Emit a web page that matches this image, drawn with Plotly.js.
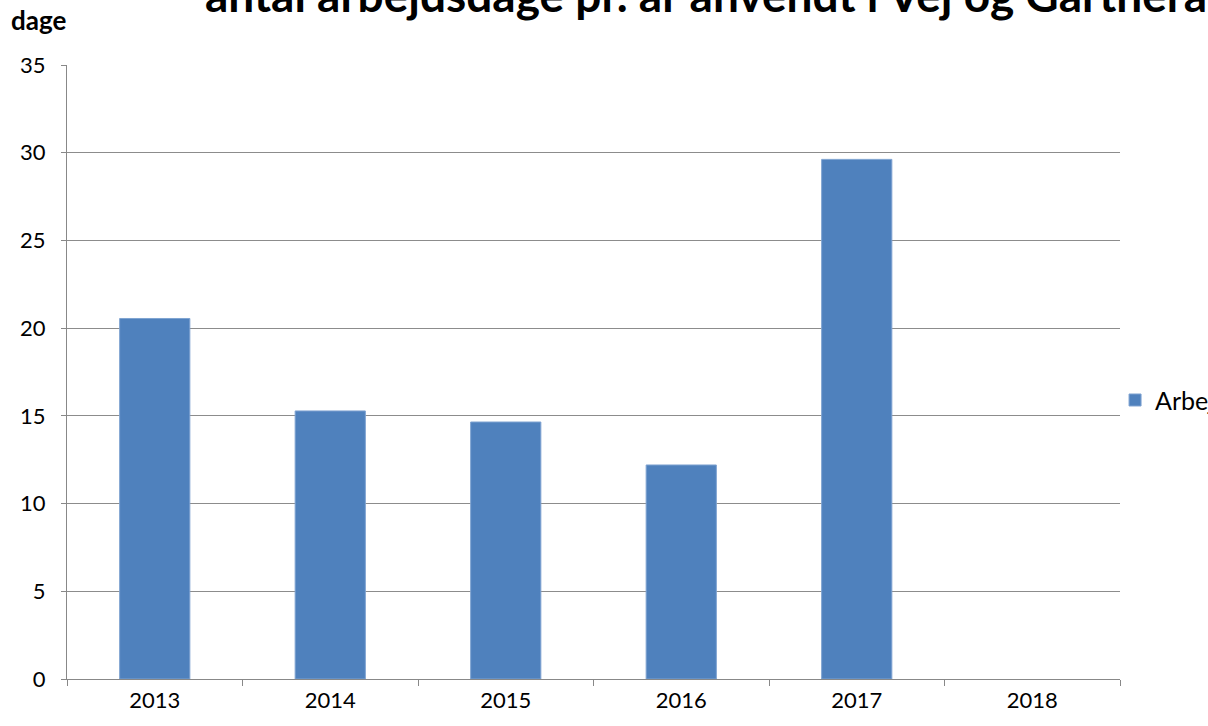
<!DOCTYPE html>
<html>
<head>
<meta charset="utf-8">
<script src="https://cdn.plot.ly/plotly-3.0.1.min.js"></script>
<style>html,body{margin:0;padding:0;background:#fff;}#chart{width:1208px;height:726px;}</style>
</head>
<body>
<div id="chart"></div>
<script>
const years = ['2013', '2014', '2015', '2016', '2017', '2018'];
const workDays = [20.55, 15.28, 14.65, 12.2, 29.62, null];
const seriesName = 'Arbejdsdage';
const titleText = 'antal arbejdsdage pr. år anvendt i Vej og Gartnerafdelingen';
const yLabel = 'dage';
const yTicks = [0, 5, 10, 15, 20, 25, 30, 35];

const FONT = 'Lato, "Open Sans", sans-serif';

const trace = {
  type: 'bar',
  x: years,
  y: workDays,
  name: seriesName,
  showlegend: true,
  marker: {color: '#4F81BD', line: {color: '#7FA3D1', width: 1}},
  hoverinfo: 'x+y'
};

const layout = {
  width: 1208,
  height: 726,
  margin: {l: 67, r: 88, t: 65, b: 47, pad: 0, autoexpand: false},
  paper_bgcolor: '#ffffff',
  plot_bgcolor: '#ffffff',
  font: {family: FONT, size: 22, color: '#000000'},
  bargap: 0.6,
  title: {
    text: '<b>' + titleText + '</b>',
    font: {family: FONT, size: 46, color: '#000000'},
    xref: 'container', yref: 'container',
    x: 205 / 1208, xanchor: 'left',
    y: 1 - 12 / 726, yanchor: 'bottom'
  },
  xaxis: {
    type: 'category',
    showgrid: false,
    showline: true,
    linecolor: '#888888',
    linewidth: 1,
    ticks: 'outside',
    tickson: 'boundaries',
    ticklen: 6,
    tickcolor: '#888888',
    tickfont: {family: FONT, size: 22, color: '#000000'},
    ticklabelstandoff: 2,
    zeroline: false
  },
  yaxis: {
    range: [0, 35],
    tickvals: yTicks,
    showgrid: true,
    gridcolor: '#8c8c8c',
    gridwidth: 1,
    showline: true,
    linecolor: '#888888',
    linewidth: 1,
    ticks: 'outside',
    ticklen: 5,
    tickcolor: '#888888',
    tickfont: {family: FONT, size: 22, color: '#000000'},
    ticklabelstandoff: 11,
    zeroline: false
  },
  legend: {
    x: 0.9953, xanchor: 'left',
    y: 0.454, yanchor: 'middle',
    font: {family: FONT, size: 25, color: '#000000'},
    bgcolor: 'rgba(0,0,0,0)',
    itemwidth: 30
  },
  annotations: [{
    text: '<b>' + yLabel + '</b>',
    xref: 'paper', yref: 'paper',
    x: -67 / 1053, xanchor: 'left',
    y: 1 + 45 / 614, yanchor: 'middle',
    showarrow: false,
    font: {family: FONT, size: 26, color: '#000000'},
    xshift: 9
  }]
};

Plotly.newPlot('chart', [trace], layout, {displayModeBar: false, responsive: false});
</script>
</body>
</html>
